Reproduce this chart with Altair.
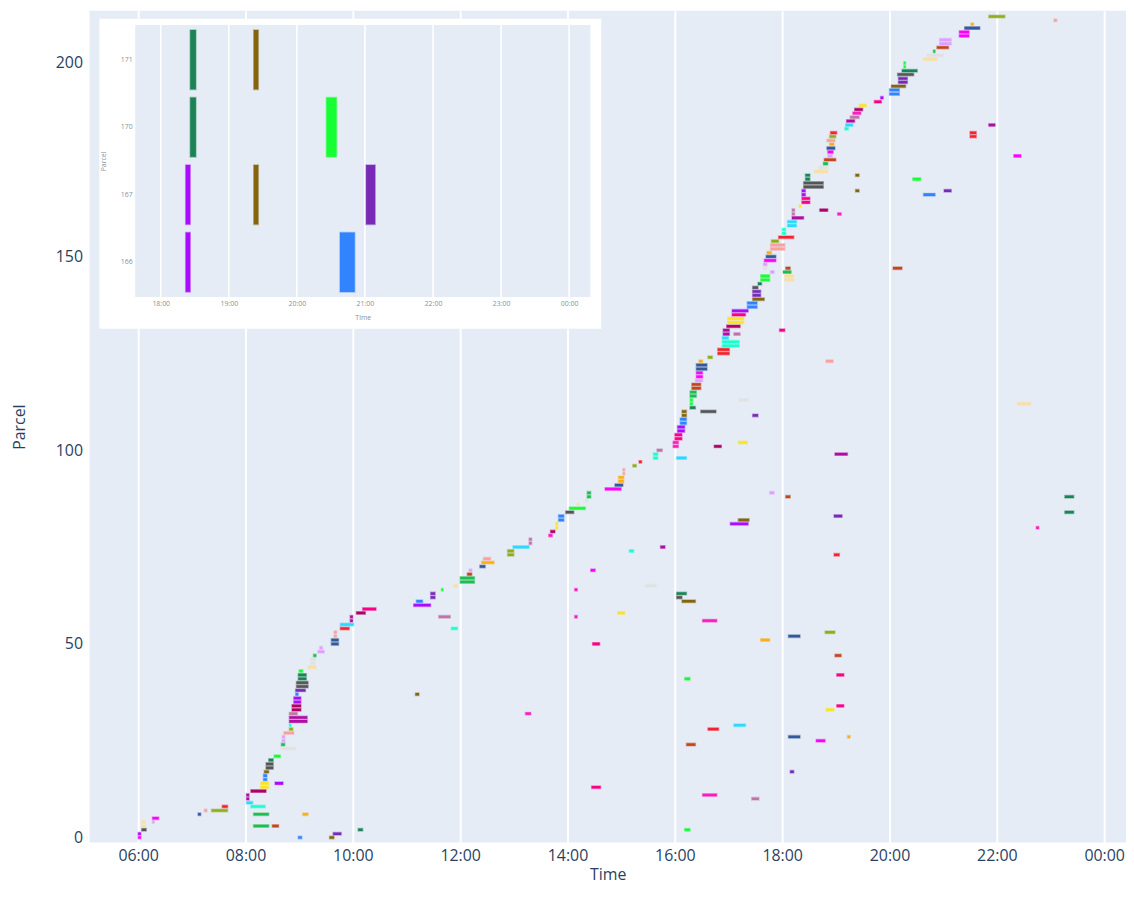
import altair as alt
import pandas as pd

# ---------------- data ----------------
PALETTE = ['#AA0DFE', '#3283FE', '#85660D', '#782AB6', '#565656', '#1C8356',
           '#16FF32', '#F7E1A0', '#E2E2E2', '#1CBE4F', '#C4451C', '#DEA0FD',
           '#FE00FA', '#325A9B', '#FEAF16', '#F8A19F', '#90AD1C', '#F6222E',
           '#1CFFCE', '#2ED9FF', '#B10DA1', '#C075A6', '#FC1CBF', '#B00068',
           '#FBE426', '#FA0087']
VEHICLES = [f"Vehicle {i + 1}" for i in range(len(PALETTE))]

parcel = [
    0, 0, 0, 1, 1, 2, 2, 2, 3, 3,
    3, 4, 4, 5, 6, 6, 6, 7, 7, 8,
    8, 9, 10, 10, 11, 11, 12, 13, 13, 14,
    14, 15, 16, 17, 17, 18, 19, 20, 21, 23,
    24, 24, 25, 25, 26, 26, 26, 27, 28, 28,
    29, 29, 30, 31, 32, 32, 33, 33, 34, 34,
    35, 36, 37, 37, 38, 39, 40, 41, 41, 42,
    42, 43, 44, 45, 46, 47, 47, 48, 49, 50,
    50, 51, 51, 52, 52, 53, 53, 54, 54, 55,
    56, 56, 57, 57, 57, 58, 58, 59, 60, 61,
    61, 62, 62, 63, 63, 64, 64, 65, 65, 66,
    67, 68, 69, 69, 70, 71, 72, 73, 73, 74,
    74, 75, 75, 76, 77, 78, 79, 80, 80, 81,
    81, 82, 82, 83, 83, 84, 84, 85, 86, 87,
    88, 88, 88, 89, 89, 90, 91, 92, 93, 94,
    95, 96, 97, 98, 98, 99, 99, 100, 101, 101,
    102, 102, 103, 104, 105, 106, 107, 108, 109, 109,
    110, 110, 111, 112, 112, 113, 113, 114, 115, 116,
    117, 118, 119, 120, 121, 122, 123, 123, 124, 125,
    126, 127, 128, 129, 130, 130, 131, 131, 132, 133,
    134, 135, 136, 137, 138, 139, 140, 141, 142, 143,
    144, 144, 145, 145, 146, 146, 147, 147, 147, 148,
    149, 150, 151, 152, 153, 154, 155, 156, 157, 158,
    159, 160, 161, 161, 162, 162, 163, 164, 165, 166,
    166, 167, 167, 167, 168, 169, 170, 170, 171, 171,
    172, 173, 174, 175, 176, 176, 177, 178, 179, 180,
    181, 181, 182, 182, 183, 184, 184, 185, 186, 187,
    188, 189, 190, 191, 192, 193, 194, 195, 196, 197,
    198, 199, 200, 201, 202, 203, 204, 205, 206, 207,
    208, 209, 210, 211, 212,
]

# start / end of each task, minutes after midnight
start_min = [
    360, 539, 574, 360, 578, 364, 606, 971, 364, 489,
    510, 364, 376, 376, 427, 489, 544, 434, 442, 454,
    486, 481, 481, 1046, 481, 991, 486, 497, 867, 497,
    513, 500, 500, 501, 1089, 503, 503, 506, 512, 520,
    520, 973, 521, 1118, 521, 1087, 1153, 523, 529, 997,
    529, 1026, 529, 529, 529, 793, 532, 1129, 532, 1141,
    534, 534, 536, 670, 536, 537, 537, 539, 971, 539,
    1141, 540, 550, 553, 553, 556, 1139, 561, 563, 576,
    868, 576, 1056, 579, 1087, 579, 1128, 586, 710, 586,
    597, 991, 597, 696, 848, 604, 896, 611, 668, 671,
    968, 687, 962, 687, 962, 699, 848, 713, 927, 720,
    720, 728, 730, 866, 742, 744, 746, 773, 1138, 773,
    909, 779, 944, 797, 797, 819, 821, 827, 1364, 827,
    1022, 830, 1031, 830, 1138, 838, 1396, 842, 851, 860,
    862, 1084, 1396, 862, 1066, 882, 893, 897, 897, 902,
    902, 913, 920, 936, 962, 936, 1139, 940, 958, 1004,
    958, 1031, 960, 960, 963, 963, 966, 966, 968, 1047,
    968, 989, 977, 977, 1343, 977, 1032, 977, 977, 979,
    979, 983, 984, 984, 984, 984, 987, 1129, 997, 1008,
    1008, 1013, 1013, 1013, 1014, 1026, 1014, 1077, 1018, 1019,
    1019, 1024, 1024, 1041, 1041, 1047, 1047, 1047, 1047, 1053,
    1056, 1083, 1056, 1083, 1067, 1081, 1059, 1084, 1204, 1059,
    1060, 1062, 1063, 1067, 1067, 1068, 1076, 1080, 1080, 1086,
    1086, 1091, 1091, 1142, 1091, 1122, 1099, 1102, 1102, 1102,
    1238, 1102, 1162, 1261, 1104, 1104, 1106, 1226, 1106, 1162,
    1116, 1121, 1126, 1127, 1131, 1339, 1131, 1130, 1133, 1130,
    1133, 1290, 1134, 1290, 1150, 1151, 1311, 1152, 1156, 1159,
    1161, 1166, 1183, 1190, 1200, 1200, 1202, 1210, 1210, 1209,
    1214, 1216, 1216, 1238, 1242, 1249, 1253, 1256, 1256, 1278,
    1278, 1284, 1291, 1384, 1311,
]

end_min = [
    363, 543, 579, 363, 587, 369, 611, 977, 368, 506,
    517, 368, 378, 383, 430, 506, 550, 437, 460, 460,
    502, 488, 484, 1054, 484, 1007, 503, 506, 877, 506,
    522, 504, 504, 506, 1093, 511, 511, 511, 519, 536,
    524, 983, 524, 1128, 524, 1100, 1156, 534, 533, 1009,
    531, 1039, 549, 549, 538, 799, 542, 1138, 542, 1149,
    542, 542, 539, 674, 547, 550, 550, 548, 977, 548,
    1149, 544, 559, 558, 558, 559, 1146, 568, 566, 584,
    876, 584, 1066, 582, 1100, 582, 1139, 596, 717, 601,
    600, 1007, 600, 709, 851, 614, 904, 626, 687, 678,
    983, 692, 968, 692, 973, 701, 851, 717, 939, 736,
    736, 733, 733, 871, 748, 758, 754, 780, 1144, 780,
    914, 797, 949, 800, 800, 823, 826, 829, 1367, 829,
    1042, 836, 1043, 836, 1147, 847, 1406, 860, 853, 863,
    866, 1089, 1406, 866, 1071, 900, 902, 903, 903, 904,
    904, 917, 923, 941, 973, 941, 1153, 946, 964, 1012,
    964, 1041, 968, 968, 971, 971, 973, 973, 973, 1053,
    973, 1006, 983, 980, 1358, 980, 1042, 984, 984, 989,
    989, 991, 991, 991, 996, 996, 991, 1137, 1002, 1021,
    1021, 1032, 1032, 1020, 1021, 1033, 1021, 1083, 1033, 1037,
    1037, 1039, 1042, 1052, 1052, 1060, 1056, 1056, 1053, 1057,
    1066, 1093, 1066, 1093, 1071, 1090, 1063, 1089, 1214, 1063,
    1073, 1073, 1068, 1083, 1083, 1076, 1093, 1084, 1084, 1096,
    1096, 1104, 1094, 1146, 1094, 1131, 1101, 1111, 1111, 1106,
    1251, 1106, 1166, 1269, 1126, 1126, 1111, 1235, 1111, 1166,
    1131, 1131, 1131, 1140, 1136, 1347, 1137, 1139, 1138, 1139,
    1140, 1297, 1141, 1297, 1154, 1159, 1318, 1161, 1166, 1168,
    1170, 1174, 1191, 1193, 1211, 1211, 1218, 1220, 1220, 1227,
    1231, 1218, 1218, 1253, 1260, 1251, 1266, 1269, 1269, 1289,
    1289, 1301, 1294, 1387, 1329,
]

vehicle = [
    12, 1, 2, 0, 3, 4, 5, 6, 7, 9,
    10, 7, 11, 12, 13, 9, 14, 15, 16, 17,
    18, 19, 20, 21, 20, 22, 23, 24, 25, 24,
    0, 1, 1, 2, 3, 4, 4, 5, 6, 8,
    9, 10, 11, 12, 11, 13, 14, 15, 16, 17,
    18, 19, 20, 20, 21, 22, 23, 24, 23, 25,
    0, 0, 1, 2, 3, 4, 4, 5, 6, 5,
    25, 6, 7, 8, 8, 9, 10, 11, 11, 13,
    25, 13, 14, 15, 13, 15, 16, 17, 18, 19,
    20, 22, 20, 21, 22, 23, 24, 25, 0, 1,
    2, 3, 4, 3, 5, 6, 22, 7, 8, 9,
    9, 10, 11, 12, 13, 14, 15, 16, 17, 16,
    18, 19, 20, 21, 21, 22, 23, 24, 22, 24,
    0, 1, 2, 1, 3, 4, 5, 6, 7, 8,
    9, 10, 5, 9, 11, 12, 13, 14, 14, 15,
    15, 16, 17, 18, 19, 18, 20, 21, 22, 23,
    22, 24, 25, 25, 0, 0, 1, 1, 2, 3,
    2, 4, 5, 6, 7, 6, 8, 9, 9, 10,
    10, 11, 12, 12, 13, 13, 14, 15, 16, 17,
    17, 18, 18, 19, 20, 21, 20, 25, 23, 24,
    24, 25, 0, 1, 1, 2, 3, 3, 4, 5,
    6, 7, 6, 7, 11, 9, 8, 10, 10, 11,
    12, 13, 14, 15, 15, 16, 17, 18, 18, 19,
    19, 20, 21, 22, 21, 23, 24, 25, 25, 0,
    1, 0, 2, 3, 4, 4, 5, 6, 5, 2,
    7, 8, 9, 10, 11, 12, 12, 13, 14, 15,
    16, 17, 17, 17, 18, 19, 20, 20, 21, 22,
    23, 24, 25, 0, 1, 1, 2, 3, 3, 4,
    5, 6, 6, 7, 8, 9, 10, 11, 11, 12,
    12, 13, 14, 15, 16,
]

INSET_PARCELS = [166, 167, 170, 171]

# axis ticks (minutes after midnight)
MAIN_TICKS = [360, 480, 600, 720, 840, 960, 1080, 1200, 1320, 1440]
INSET_TICKS = [1080, 1140, 1200, 1260, 1320, 1380, 1440]
Y_TICKS = [0, 50, 100, 150, 200]

assert len(parcel) == len(start_min) == len(end_min) == len(vehicle)

df = pd.DataFrame({
    "parcel": parcel,
    "start": start_min,
    "end": end_min,
    "vehicle": [VEHICLES[i] for i in vehicle],
})
df_in = df[df["parcel"].isin(INSET_PARCELS)].copy()
df_grid = pd.DataFrame({"start": INSET_TICKS})

FONT = "Open Sans"
TXT = "#2a3f5f"
BG = "#E5ECF6"
W, H = 1043, 837
HHMM = "timeFormat(datetime(2024, 0, 1, 0, datum.value), '%H:%M')"

fill_scale = alt.Scale(domain=VEHICLES, range=PALETTE)

main = alt.Chart(df).mark_bar(size=2.6, strokeWidth=1.4, strokeOpacity=0.4, clip=True).encode(
    x=alt.X(
        "start:Q",
        scale=alt.Scale(domain=[305.6, 1464.4], nice=False, zero=False),
        axis=alt.Axis(
            title="Time", values=MAIN_TICKS, labelExpr=HHMM,
            grid=True, gridColor="white", gridWidth=2,
            domain=False, ticks=False, labelFlush=False, labelOverlap=False,
            labelFont=FONT, labelFontSize=16, labelColor=TXT, labelPadding=5,
            titleFont=FONT, titleFontSize=16, titleColor=TXT, titleFontWeight="normal",
            titlePadding=3,
        ),
    ),
    x2="end:Q",
    y=alt.Y(
        "parcel:Q",
        scale=alt.Scale(domain=[0, 212.2], nice=False, zero=False),
        axis=alt.Axis(
            title="Parcel", values=Y_TICKS, grid=False,
            domain=False, ticks=False, labelFlush=False,
            labelFont=FONT, labelFontSize=16, labelColor=TXT, labelPadding=7,
            titleFont=FONT, titleFontSize=16, titleColor=TXT, titleFontWeight="normal",
            titlePadding=28,
        ),
    ),
    fill=alt.Fill("vehicle:N", scale=fill_scale, legend=None),
    stroke=alt.Stroke("vehicle:N", scale=fill_scale, legend=None),
)

one = pd.DataFrame({"k": [0]})
inset_box = alt.Chart(one).mark_rect(fill="white").encode(
    x=alt.value(10), x2=alt.value(515), y=alt.value(8), y2=alt.value(320)
)
inset_bg = alt.Chart(one).mark_rect(fill=BG).encode(
    x=alt.value(46), x2=alt.value(504), y=alt.value(14.3), y2=alt.value(288)
)

ITXT = "#8a8f99"
inset_x_scale = alt.Scale(domain=[1057.5, 1458.7], range=[46, 504], nice=False, zero=False)
inset_x_axis = alt.Axis(
    orient="bottom", offset=-(H - 288),
    title="Time", values=INSET_TICKS, labelExpr=HHMM,
    grid=False, domain=False, ticks=False, labelFlush=False, labelOverlap=False,
    labelFont=FONT, labelFontSize=7, labelColor=ITXT, labelPadding=3,
    titleFont=FONT, titleFontSize=7, titleColor=ITXT, titleFontWeight="normal",
    titlePadding=7, zindex=1,
)

inset_grid = alt.Chart(df_grid).mark_rule(color="white", strokeWidth=1.5).encode(
    x=alt.X("start:Q", scale=inset_x_scale, axis=inset_x_axis),
    y=alt.value(14.3),
    y2=alt.value(288),
)

inset_bars = alt.Chart(df_in).mark_bar(strokeWidth=1.5, strokeOpacity=0.4).encode(
    x=alt.X("start:Q", scale=inset_x_scale, axis=inset_x_axis),
    x2="end:Q",
    y=alt.Y(
        "parcel:O", sort="descending",
        scale=alt.Scale(range=[14.3, 288], paddingInner=0.12, paddingOuter=0.075),
        axis=alt.Axis(
            orient="left", offset=-46,
            title="Parcel", grid=False, domain=False, ticks=False,
            labelFont=FONT, labelFontSize=7, labelColor=ITXT, labelPadding=3,
            titleFont=FONT, titleFontSize=7, titleColor=ITXT, titleFontWeight="normal",
            titlePadding=14, zindex=1,
        ),
    ),
    fill=alt.Fill("vehicle:N", scale=fill_scale, legend=None),
    stroke=alt.Stroke("vehicle:N", scale=fill_scale, legend=None),
)

inset = alt.layer(inset_grid, inset_bars)

chart = alt.layer(main, inset_box, inset_bg, inset).resolve_scale(
    x="independent", y="independent"
).resolve_axis(
    x="independent", y="independent"
).properties(
    width=W, height=H,
    autosize=alt.AutoSizeParams(type="none"),
    padding={"left": 82, "top": 0, "right": 0, "bottom": 43},
    background="white",
).configure_view(fill=BG, strokeWidth=0)

chart.save("out.html", embed_options={"renderer": "svg", "actions": False})
